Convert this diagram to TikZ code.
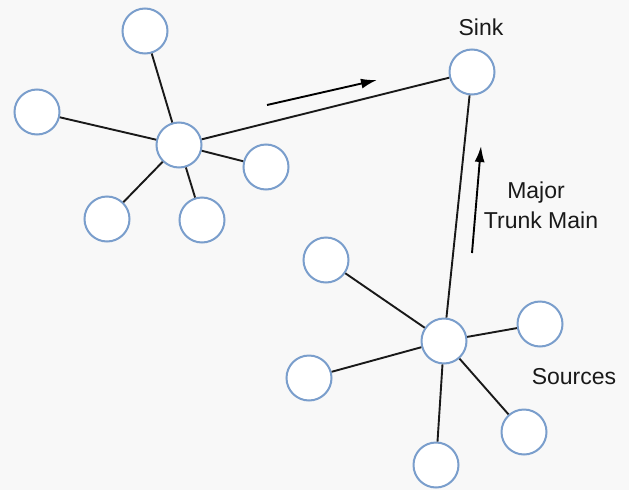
\documentclass[tikz,border=0pt]{standalone}
\usepackage{fontspec}
\setmainfont{Liberation Sans}
\usetikzlibrary{arrows.meta}
\definecolor{ringblue}{RGB}{122,158,204}
\definecolor{bg}{RGB}{248,248,248}
\begin{document}
\begin{tikzpicture}[x=1pt,y=-1pt,
  station/.style={circle,draw=ringblue,line width=2pt,fill=white,minimum size=45pt,inner sep=0pt},
  pipe/.style={draw=black!90,line width=1.9pt},
  flow/.style={draw=black,line width=1.9pt,-{Latex[length=16pt,width=10pt]}},
  lbl/.style={font=\fontsize{23}{26}\selectfont,text=black!90,inner sep=0pt}]
\fill[bg] (0,0) rectangle (629,490);
\useasboundingbox (0,0) rectangle (629,490);
% upper-left cluster
\node[station] (h1) at (179,145) {};
\node[station] (a1) at (145,31) {};
\node[station] (a2) at (37,112) {};
\node[station] (a3) at (266,167) {};
\node[station] (a4) at (107,219) {};
\node[station] (a5) at (202,220) {};
% sink
\node[station] (sink) at (472,72) {};
% lower-right cluster
\node[station] (h2) at (444,341) {};
\node[station] (b1) at (326,260) {};
\node[station] (b2) at (540,324) {};
\node[station] (b3) at (309,378) {};
\node[station] (b4) at (524,432) {};
\node[station] (b5) at (436,465) {};
% pipes
\foreach \s in {a1,a2,a3,a4,a5} \draw[pipe] (h1) -- (\s);
\foreach \s in {b1,b2,b3,b4,b5} \draw[pipe] (h2) -- (\s);
\draw[pipe] (h1) -- (sink);
\draw[pipe] (h2) -- (sink);
% flow arrows
\coordinate (f1s) at (267,105);
\coordinate (f1e) at (377,80);
\draw[flow] (f1s) -- (f1e);
\coordinate (f2s) at (472,253);
\coordinate (f2e) at (481,146);
\draw[flow] (f2s) -- (f2e);
% labels
\node[lbl] (tsink) at (481,27) {Sink};
\node[lbl] (tmajor) at (536,193) {Major};
\node[lbl] (ttrunk) at (541,220) {Trunk Main};
\node[lbl] (tsrc) at (574,377) {Sources};
\end{tikzpicture}
\end{document}
